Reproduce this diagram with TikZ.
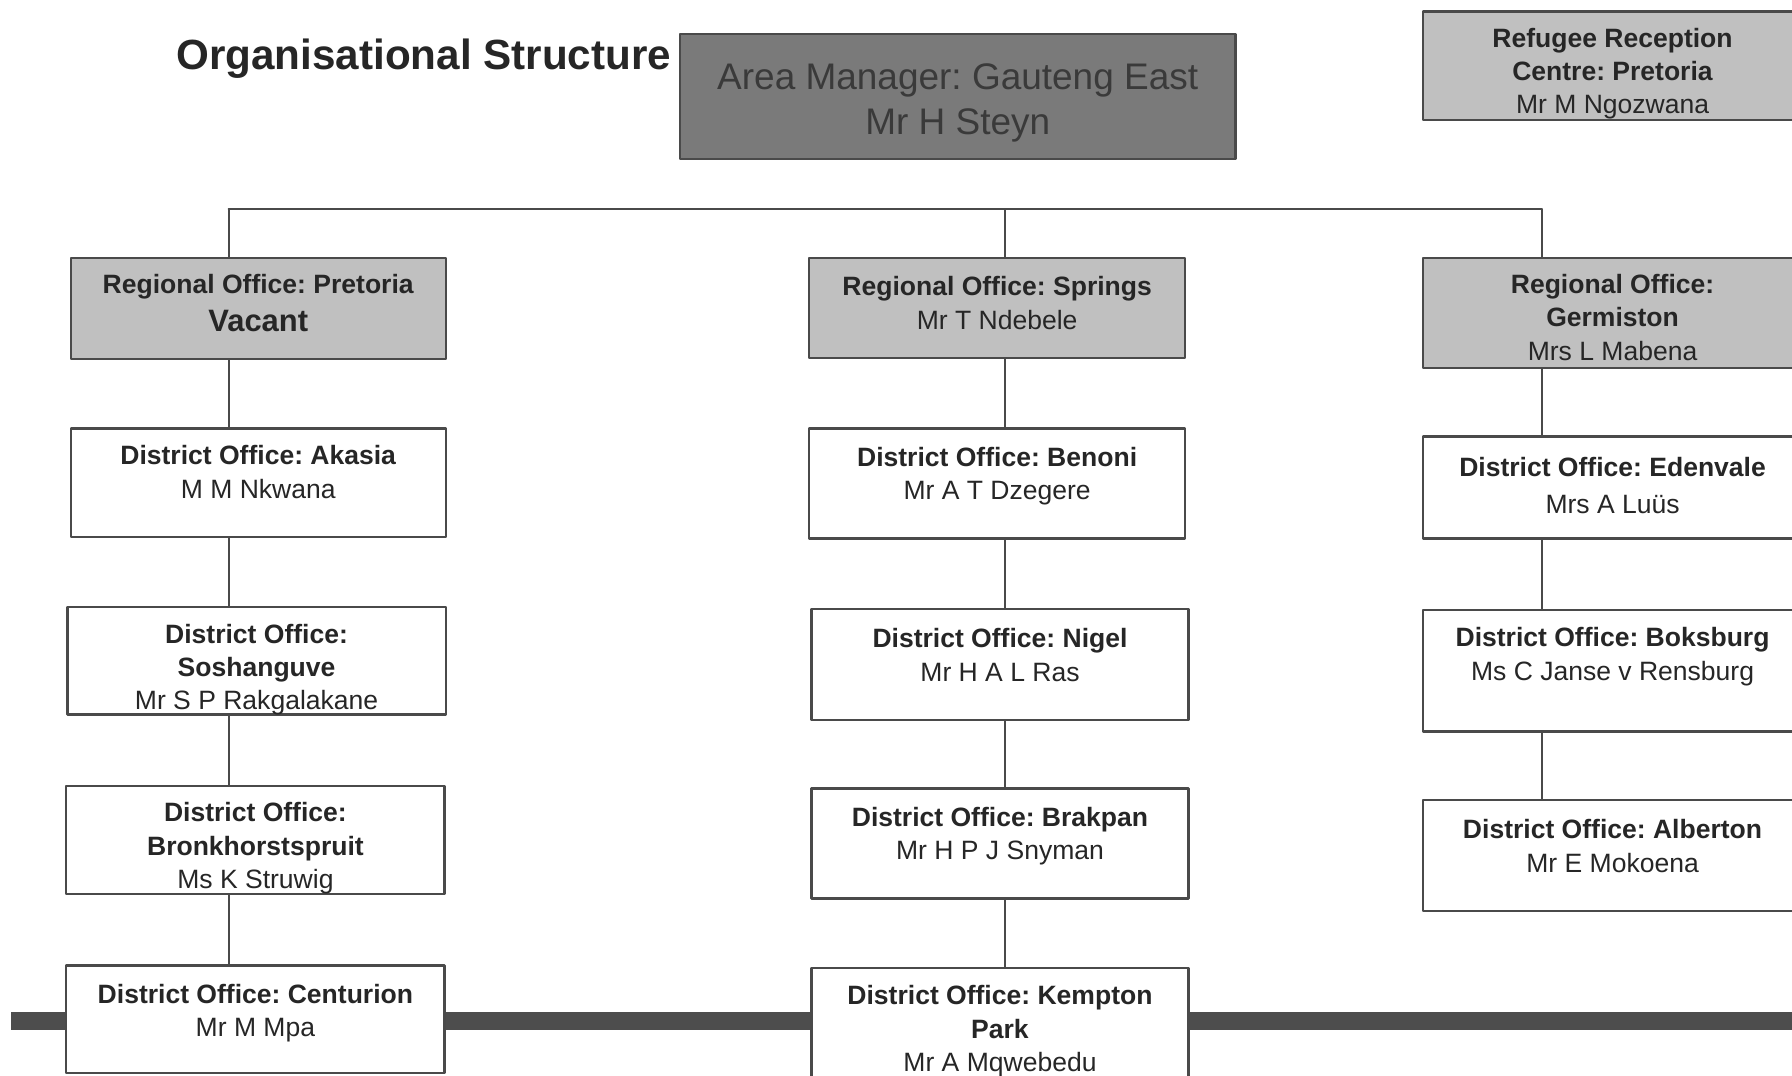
\documentclass[tikz,border=0pt]{standalone}
\usepackage{fontspec}
\setmainfont{Liberation Sans}
\frenchspacing
\definecolor{boxline}{HTML}{4A4A4A}
\definecolor{regfill}{HTML}{C0C0C0}
\definecolor{amfill}{HTML}{7A7A7A}
\definecolor{amtxt}{HTML}{3A3A3A}
\definecolor{txt}{HTML}{262626}
\definecolor{barcol}{HTML}{4D4D4D}
\begin{document}
\begin{tikzpicture}[x=0.01cm, y=-0.01cm, line join=round, line cap=round,
    box/.style={draw=boxline, line width=0.6pt, inner sep=1pt, align=center, text=txt,
        font=\fontsize{6.6}{8.3}\selectfont},
    regbox/.style={box, fill=regfill},
    distbox/.style={box, fill=white},
    lastline/.style={text height=#1, text depth=0pt},
    link/.style={draw=boxline, line width=0.5pt}]
\clip (0,0) rectangle (1568,941);
\fill[white] (0,0) rectangle (1568,941);
        \def\xa{200} \def\xb{879} \def\xc{1349} \def\yt{183}
\coordinate (L) at (\xa,\yt);
\coordinate (M) at (\xb,\yt);
\coordinate (R) at (\xc,\yt);
\coordinate (barL) at (10,893);
\coordinate (barR) at (1600,893);
        \draw[line width=4.5pt, barcol, line cap=butt] (barL) -- (barR);
\node[anchor=base east, inner sep=0pt, text=txt, font=\fontsize{10.5}{12}\selectfont\bfseries] (title) at (588,61) {Organisational Structure};
\node[draw=boxline, line width=0.6pt, fill=amfill, text=amtxt, align=center, minimum width=4.86cm, minimum height=1.09cm,
    font=\fontsize{9.2}{11.2}\selectfont, lastline=0.67cm] (am) at (838,84.5) {Area Manager: Gauteng East\\Mr H Steyn};
\node[regbox, minimum width=3.32cm, minimum height=0.95cm, lastline=0.84cm] (rrc) at (1411,57.5) {\textbf{Refugee Reception}\\\textbf{Centre: Pretoria}\\Mr M Ngozwana};
% regional offices
\node[regbox, minimum width=3.28cm, minimum height=0.88cm, lastline=0.40cm] (rpta) at (226,270) {\textbf{Regional Office: Pretoria}\\[1.1pt]{\fontsize{7.7}{9.5}\selectfont\bfseries Vacant}};
\node[regbox, minimum width=3.29cm, minimum height=0.87cm, lastline=0.37cm] (rspr) at (872.5,269.5) {\textbf{Regional Office: Springs}\\Mr T Ndebele};
\node[regbox, minimum width=3.32cm, minimum height=0.96cm, lastline=0.82cm] (rger) at (1411,274) {\textbf{Regional Office:}\\\textbf{Germiston}\\Mrs L Mabena};
% district offices
\node[distbox, minimum width=3.28cm, minimum height=0.95cm, lastline=0.27cm] (ak) at (226,422.5) {\textbf{District Office: Akasia}\\M M Nkwana};
\node[distbox, minimum width=3.31cm, minimum height=0.94cm, lastline=0.86cm] (sos) at (224.5,578) {\textbf{District Office:}\\\textbf{Soshanguve}\\Mr S P Rakgalakane};
\node[distbox, minimum width=3.31cm, minimum height=0.94cm, lastline=0.85cm] (bro) at (223.5,735) {\textbf{District Office:}\\\textbf{Bronkhorstspruit}\\Ms K Struwig};
\node[distbox, minimum width=3.31cm, minimum height=0.94cm, lastline=0.30cm] (cen) at (223.5,892) {\textbf{District Office: Centurion}\\Mr M Mpa};
\node[distbox, minimum width=3.29cm, minimum height=0.96cm, lastline=0.28cm] (ben) at (872.5,423) {\textbf{District Office: Benoni}\\Mr A T Dzegere};
\node[distbox, minimum width=3.30cm, minimum height=0.97cm, lastline=0.29cm] (nig) at (875,581.5) {\textbf{District Office: Nigel}\\Mr H A L Ras};
\node[distbox, minimum width=3.30cm, minimum height=0.96cm, lastline=0.28cm] (bra) at (875,738) {\textbf{District Office: Brakpan}\\Mr H P J Snyman};
\node[distbox, minimum width=3.30cm, minimum height=1.13cm, lastline=0.68cm] (kem) at (875,903.5) {\textbf{District Office: Kempton}\\\textbf{Park}\\Mr A Mqwebedu};
\node[distbox, minimum width=3.32cm, minimum height=0.89cm, lastline=0.45cm] (ede) at (1411,426.5) {\textbf{District Office: Edenvale}\\[0.9pt]Mrs A Luüs};
\node[distbox, minimum width=3.32cm, minimum height=1.06cm, lastline=0.16cm] (bok) at (1411,587) {\textbf{District Office: Boksburg}\\Ms C Janse v Rensburg};
\node[distbox, minimum width=3.32cm, minimum height=0.97cm, lastline=0.29cm] (alb) at (1411,748.5) {\textbf{District Office: Alberton}\\Mr E Mokoena};
% connectors
        \draw[link] (L) -- (M) -- (R);
        \draw[link] (L) -- (rpta.north -| L);
        \draw[link] (M) -- (rspr.north -| M);
        \draw[link] (R) -- (rger.north -| R);
\foreach \a/\b in {rpta/ak, ak/sos, sos/bro, bro/cen}
        \draw[link] (\a.south -| L) -- (\b.north -| L);
\foreach \a/\b in {rspr/ben, ben/nig, nig/bra, bra/kem}
        \draw[link] (\a.south -| M) -- (\b.north -| M);
\foreach \a/\b in {rger/ede, ede/bok, bok/alb}
        \draw[link] (\a.south -| R) -- (\b.north -| R);
    \end{tikzpicture}
\end{document}
